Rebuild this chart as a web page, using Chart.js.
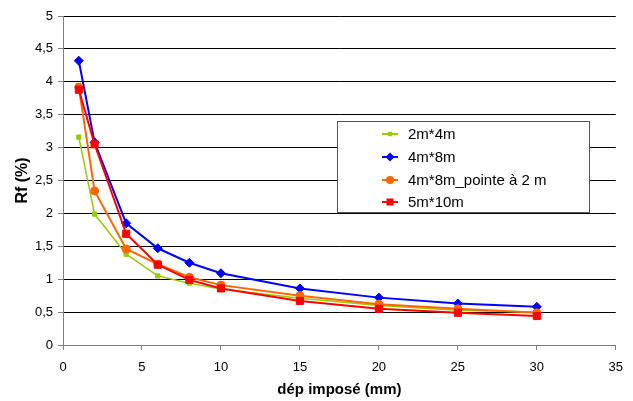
<!DOCTYPE html>
<html><head><meta charset="utf-8">
<script src="https://cdn.jsdelivr.net/npm/chart.js@4/dist/chart.umd.min.js"></script>
<style>html,body{margin:0;padding:0;background:#fff}#wrap{width:633px;height:401px}</style>
</head><body><div id="wrap"><canvas id="c" width="633" height="401"></canvas></div>
<script>
const depImpose = [1, 2, 4, 6, 8, 10, 15, 20, 25, 30];
const rf2x4 = [3.16, 1.99, 1.38, 1.05, 0.94, 0.85, 0.71, 0.60, 0.53, 0.50];
const rf4x8 = [4.32, 3.08, 1.85, 1.47, 1.25, 1.09, 0.86, 0.72, 0.63, 0.58];
const rf4x8pointe = [3.92, 2.34, 1.46, 1.23, 1.03, 0.91, 0.75, 0.62, 0.55, 0.49];
const rf5x10 = [3.88, 3.05, 1.69, 1.22, 0.99, 0.86, 0.67, 0.55, 0.49, 0.44];
const seriesLabels = ['2m*4m', '4m*8m', '4m*8m_pointe à 2 m', '5m*10m'];
const xTitle = 'dép imposé (mm)';
const yTitle = 'Rf (%)';

const FONT = '"Liberation Sans", Arial, sans-serif';
const toPts = arr => arr.map((v, i) => ({x: depImpose[i], y: v}));

function ds(label, data, color, style, radius, order, bw) {
  return {label, data: toPts(data), borderColor: color, backgroundColor: color,
    pointBackgroundColor: color, pointBorderColor: color, pointStyle: style,
    pointRadius: radius, pointHoverRadius: radius, pointBorderWidth: 1,
    borderWidth: bw, tension: 0, order, fill: false};
}

const legendPlugin = {
  id: 'boxLegend',
  afterDatasetsDraw(chart) {
    const ctx = chart.ctx;
    const L = 337.5, T = 121.5, W = 252, H = 91;
    ctx.save();
    ctx.fillStyle = '#fff';
    ctx.fillRect(L, T, W, H);
    ctx.strokeStyle = '#555';
    ctx.lineWidth = 1;
    ctx.strokeRect(L, T, W, H);
    const ys = [134, 157, 180, 202];
    chart.data.datasets.forEach((d, i) => {
      const y = ys[i];
      ctx.strokeStyle = d.borderColor;
      ctx.lineWidth = 2;
      ctx.beginPath(); ctx.moveTo(382, y); ctx.lineTo(398, y); ctx.stroke();
      ctx.fillStyle = d.borderColor;
      const cx = 390;
      ctx.beginPath();
      if (d.pointStyle === 'rect') {
        const s = d.pointRadius >= 4 ? 3.5 : 2.2;
        ctx.rect(cx - s, y - s, 2 * s, 2 * s);
      } else if (d.pointStyle === 'rectRot') {
        const r = 4.5;
        ctx.moveTo(cx - r, y); ctx.lineTo(cx, y - r); ctx.lineTo(cx + r, y); ctx.lineTo(cx, y + r); ctx.closePath();
      } else {
        ctx.arc(cx, y, 4, 0, Math.PI * 2);
      }
      ctx.fill();
      ctx.fillStyle = '#000';
      ctx.font = '15px ' + FONT;
      ctx.textBaseline = 'middle';
      ctx.textAlign = 'left';
      ctx.fillText(d.label, 408, y + 1);
    });
    ctx.restore();
  }
};

new Chart(document.getElementById('c'), {
  type: 'line',
  data: {
    datasets: [
      ds(seriesLabels[0], rf2x4, '#99CC00', 'rect', 3, 4, 1.5),
      ds(seriesLabels[1], rf4x8, '#0000FF', 'rectRot', 4.5, 3, 2),
      ds(seriesLabels[2], rf4x8pointe, '#FF6600', 'circle', 4, 2, 2),
      ds(seriesLabels[3], rf5x10, '#FF0000', 'rect', 5, 1, 2)
    ]
  },
  options: {
    responsive: false,
    animation: false,
    devicePixelRatio: 1,
    layout: {padding: {left: 0, top: 16, right: 16, bottom: 0}},
    plugins: {legend: {display: false}, tooltip: {enabled: false}},
    scales: {
      x: {
        type: 'linear', min: 0, max: 35,
        ticks: {stepSize: 5, color: '#000', font: {family: FONT, size: 13}, padding: 10, maxRotation: 0},
        grid: {drawOnChartArea: false, tickLength: 5, tickColor: '#808080'},
        border: {color: '#808080', width: 1},
        title: {display: true, text: xTitle, color: '#000', font: {family: FONT, size: 15, weight: 'bold'}, padding: {top: 0, bottom: 2}},
        afterFit(s) { s.height = 56; }
      },
      y: {
        min: 0, max: 5,
        ticks: {stepSize: 0.5, color: '#000', font: {family: FONT, size: 13}, padding: 5,
          callback: v => String(v).replace('.', ',')},
        grid: {color: '#000', lineWidth: 1, tickLength: 5, tickColor: '#808080'},
        border: {color: '#808080', width: 1},
        title: {display: true, text: yTitle, color: '#000', font: {family: FONT, size: 16, weight: 'bold'}, padding: {top: 13, bottom: 0}},
        afterFit(s) { s.width = 63; }
      }
    }
  },
  plugins: [legendPlugin]
});
</script>
</body></html>
